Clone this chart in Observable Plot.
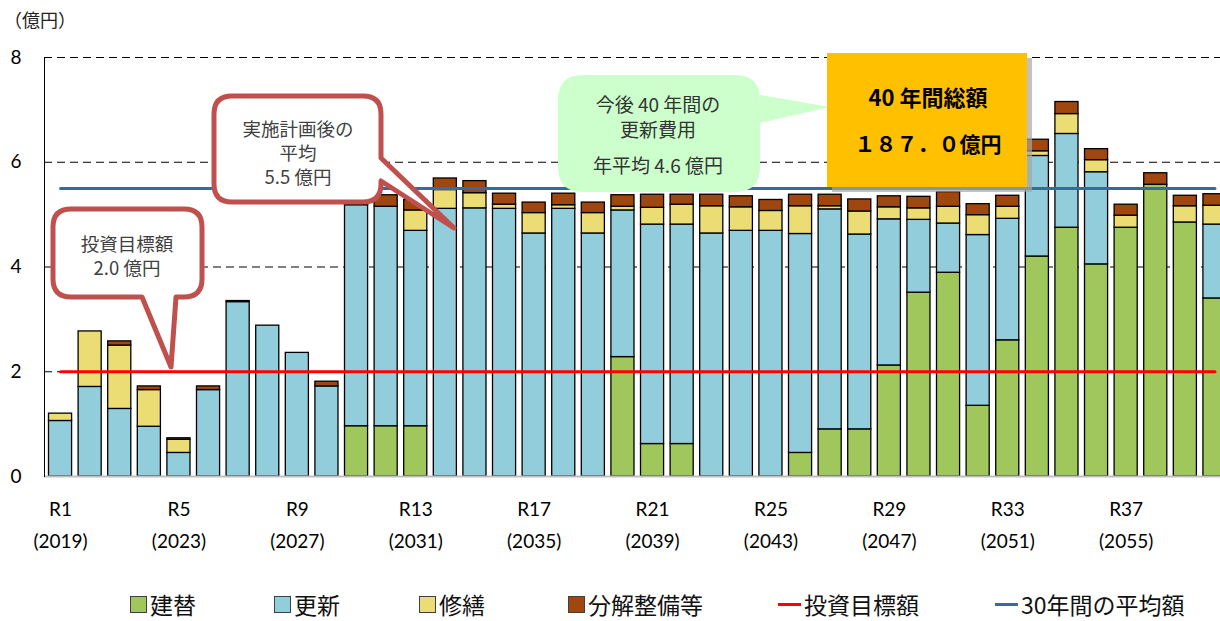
<!DOCTYPE html>
<html><head><meta charset="utf-8">
<script src="https://cdn.jsdelivr.net/npm/d3@7"></script>
<script src="https://cdn.jsdelivr.net/npm/@observablehq/plot@0.6"></script>
<style>
body{margin:0;background:#fff;}
#wrap{position:relative;width:1220px;height:621px;overflow:hidden;font-family:"Noto Sans CJK JP",sans-serif;}
#unit{position:absolute;left:4px;top:4px;font-size:18px;color:#222;line-height:30px;}
.lg{position:absolute;top:591px;font-size:23px;color:#111;line-height:26px;height:26px;white-space:nowrap;}
.sq{position:absolute;top:596px;width:15px;height:15px;border:1px solid #404040;}
.ln{position:absolute;top:603px;height:3px;}
</style></head>
<body><div id="wrap"><div id="unit">（億円）</div></div>
<script>
// ---- data ----
const reiwa = d3.range(1, 41).map(i => "R" + i);
const westernYears = d3.range(2019, 2059);
const categories = ["建替", "更新", "修繕", "分解整備等"];
const categoryColors = ["#9fc75b", "#92cddc", "#ebdc74", "#a0460f"];
const rebuild = [0,0,0,0,0,0,0,0,0,0, 0.96,0.96,0.96,0,0,0,0,0,0,2.28, 0.62,0.62,0,0,0,0.45,0.90,0.90,2.12,3.51, 3.89,1.35,2.60,4.20,4.75,4.05,4.75,5.57,4.85,3.40];
const renewal = [1.06,1.71,1.29,0.95,0.45,1.65,3.33,2.88,2.36,1.72, 4.22,4.19,3.73,5.11,5.12,5.11,4.64,5.11,4.64,2.80, 4.19,4.19,4.64,4.69,4.69,4.18,4.20,3.72,2.79,1.39, 0.94,3.26,2.32,1.92,1.79,1.76,0,0,0,1.41];
const repair = [0.14,1.06,1.21,0.70,0.25,0,0,0,0,0, 0,0,0.39,0.36,0.29,0.08,0.39,0.07,0.39,0.07, 0.32,0.38,0.52,0.45,0.38,0.53,0.06,0.44,0.23,0.22, 0.32,0.38,0.23,0.09,0.38,0.23,0.23,0,0.31,0.36];
const overhaul = [0,0,0.08,0.07,0.03,0.07,0.02,0,0,0.09, 0.20,0.22,0.20,0.22,0.23,0.21,0.20,0.22,0.20,0.22, 0.25,0.19,0.22,0.21,0.21,0.22,0.22,0.23,0.21,0.22, 0.28,0.21,0.21,0.22,0.23,0.21,0.21,0.22,0.20,0.22];
const targetLevel = 2.0;
const average30 = 5.5;
const yTicks = [0, 2, 4, 6, 8];
const labeledYears = reiwa.filter((d, i) => i % 4 === 0);

const series = [rebuild, renewal, repair, overhaul];
const rows = [];
reiwa.forEach((r, i) => categories.forEach((c, j) => {
  if (series[j][i] > 0) rows.push({year: r, cat: c, value: series[j][i]});
}));

const plot = Plot.plot({
  width: 1220, height: 575,
  marginTop: 57, marginBottom: 99, marginLeft: 44, marginRight: 0,
  style: {fontFamily: "Lato, sans-serif", fontSize: "18px", color: "#000", background: "transparent"},
  x: {type: "band", domain: reiwa, range: [48.5, 1226], paddingInner: 0.22, paddingOuter: 0, round: false},
  y: {domain: [0, 8]},
  color: {domain: categories, range: categoryColors},
  marks: [
    Plot.ruleY([2, 4, 6, 8], {stroke: "#000", strokeWidth: 1, strokeDasharray: "8,5"}),
    Plot.barY(rows, {x: "year", y: "value", fill: "cat", z: "cat", order: categories, stroke: "#000", strokeWidth: 1.3}),
    Plot.ruleY([0], {stroke: "#bfbfbf", strokeWidth: 2}),
    Plot.frame({anchor: "left", stroke: "#000", strokeWidth: 1}),
    Plot.lineY(reiwa, {x: d => d, y: () => average30, stroke: "#356ba3", strokeWidth: 3}),
    Plot.lineY(reiwa, {x: d => d, y: () => targetLevel, stroke: "#ff0000", strokeWidth: 3}),
    Plot.axisY({ticks: yTicks, tickSize: 0, tickPadding: 23, fontSize: 19, label: null}),
    Plot.axisX({ticks: labeledYears, tickSize: 0, tickPadding: 17, fontSize: 19, lineHeight: 1.68, label: null,
      tickFormat: d => `${d}\n(${westernYears[reiwa.indexOf(d)]})`})
  ]
});
const wrap = document.getElementById("wrap");
wrap.insertBefore(plot, wrap.firstChild);

// ---- annotations ----
const svg = d3.select(plot);
const g = svg.append("g").attr("font-family", '"Noto Sans CJK JP", sans-serif');

function bottomTail(x0,y0,x1,y1,r,b1,b2,tx,ty){
  return `M${x0+r},${y0}H${x1-r}Q${x1},${y0} ${x1},${y0+r}V${y1-r}Q${x1},${y1} ${x1-r},${y1}H${b2}L${tx},${ty}L${b1},${y1}H${x0+r}Q${x0},${y1} ${x0},${y1-r}V${y0+r}Q${x0},${y0} ${x0+r},${y0}Z`;
}
function rightTail(x0,y0,x1,y1,r,b1,b2,tx,ty){
  return `M${x0+r},${y0}H${x1-r}Q${x1},${y0} ${x1},${y0+r}V${b1}L${tx},${ty}L${x1},${b2}V${y1-r}Q${x1},${y1} ${x1-r},${y1}H${x0+r}Q${x0},${y1} ${x0},${y1-r}V${y0+r}Q${x0},${y0} ${x0+r},${y0}Z`;
}
function lines(x, ys, texts, size, color, weight){
  texts.forEach((t, i) => g.append("text").attr("x", x).attr("y", ys[i]).attr("text-anchor", "middle")
    .attr("dominant-baseline", "central").attr("font-size", size).attr("fill", color)
    .attr("font-weight", weight || "normal").text(t));
}

// Target callout
g.append("path").attr("d", bottomTail(53,209,202,297,18,142,176,171,367))
  .attr("fill", "#fff").attr("stroke", "#c0504d").attr("stroke-width", 5).attr("stroke-linejoin", "round");
lines(127, [243, 267], ["投資目標額", "2.0 億円"], 18.5, "#404040");

// Plan average callout
g.append("path").attr("d", rightTail(214,96,381,202,18,158,181,454,228))
  .attr("fill", "#fff").attr("stroke", "#c0504d").attr("stroke-width", 5).attr("stroke-linejoin", "round");
lines(298, [128, 152, 176], ["実施計画後の", "平均", "5.5 億円"], 18.5, "#404040");

// Green callout
g.append("path").attr("d", rightTail(558,75,760,192,25,95,123,830,107)).attr("fill", "#ccffcc");
lines(658, [103, 128, 164], ["今後 40 年間の", "更新費用", "年平均 4.6 億円"], 19, "#333");

// Orange total box
g.append("rect").attr("x", 832).attr("y", 58).attr("width", 200).attr("height", 134).attr("fill", "#a6a6a6").attr("opacity", 0.7);
g.append("rect").attr("x", 827).attr("y", 53).attr("width", 200).attr("height", 134).attr("fill", "#ffc000");
lines(928, [96], ["40 年間総額"], 22, "#000", "bold");
lines(928, [143], ["１８７．０億円"], 21, "#000", "bold");

// ---- legend ----
const legendItems = [
  {label: "建替", kind: "sq", color: categoryColors[0], x: 150},
  {label: "更新", kind: "sq", color: categoryColors[1], x: 294},
  {label: "修繕", kind: "sq", color: categoryColors[2], x: 439},
  {label: "分解整備等", kind: "sq", color: categoryColors[3], x: 588},
  {label: "投資目標額", kind: "ln", color: "#ff0000", x: 804},
  {label: "30年間の平均額", kind: "ln", color: "#356ba3", x: 1021}
];
legendItems.forEach(it => {
  const m = document.createElement("div");
  m.className = it.kind;
  m.style.background = it.color;
  if (it.kind === "ln") { m.style.width = "23px"; m.style.left = (it.x - 26) + "px"; }
  else m.style.left = (it.x - 20) + "px";
  wrap.appendChild(m);
  const t = document.createElement("div");
  t.className = "lg";
  t.style.left = it.x + "px";
  t.textContent = it.label;
  wrap.appendChild(t);
});
</script>
</body></html>
